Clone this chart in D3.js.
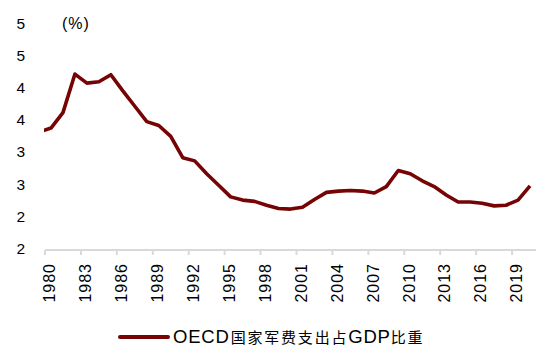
<!DOCTYPE html>
<html>
<head>
<meta charset="utf-8">
<script src="https://cdn.jsdelivr.net/npm/d3@7"></script>
<style>
  html, body { margin: 0; padding: 0; background: #fff; }
  svg { display: block; }
  text { font-family: "Liberation Sans", Arial, "Noto Sans CJK SC", sans-serif; fill: #000; }
</style>
</head>
<body>
<svg id="chart" width="550" height="364"></svg>
<script>
// ---- data ----
const years = d3.range(1979, 2021); // 1979 only feeds the clipped lead-in at the left edge
const values = [
  3.31, // 1979
  3.37, 3.61, 4.21, 4.07, 4.09, 4.20, 3.95, 3.71, 3.47, 3.41,   // 1980-1989
  3.24, 2.91, 2.86, 2.66, 2.48, 2.30, 2.25, 2.23, 2.17, 2.12,   // 1990-1999
  2.11, 2.14, 2.26, 2.37, 2.39, 2.40, 2.39, 2.36, 2.46, 2.71,   // 2000-2009
  2.66, 2.55, 2.46, 2.33, 2.22, 2.22, 2.20, 2.16, 2.17, 2.25,   // 2010-2019
  2.47                                                          // 2020
];
const xTickYears = [1980, 1983, 1986, 1989, 1992, 1995, 1998, 2001, 2004, 2007, 2010, 2013, 2016, 2019];
const yTickValues = [5.0, 4.5, 4.0, 3.5, 3.0, 2.5, 2.0, 1.5];
const yTickLabels = ["5", "5", "4", "4", "3", "3", "2", "2"];
const unitLabel = "(%)";
const seriesName = [
  {t: "OECD", cjk: false},
  {t: "国家军费支出占", cjk: true},
  {t: "GDP", cjk: false},
  {t: "比重", cjk: true}
];

// ---- layout ----
const svg = d3.select("#chart");
const plotLeft = 45, plotRight = 536;
const x = d3.scaleLinear().domain([1980, 2021]).range([plotLeft, plotRight]);
const y = d3.scaleLinear().domain([1.5, 5.0]).range([248.3, 23.3]);
const lineColor = "#760404";
const axisColor = "#d9d9d9";

// clip path for the plot area
svg.append("defs").append("clipPath").attr("id", "plotclip")
  .append("rect").attr("x", plotLeft - 1).attr("y", 0)
  .attr("width", plotRight - plotLeft + 2).attr("height", 260);

// y tick labels
svg.append("g").selectAll("text").data(yTickValues).join("text")
  .attr("x", 25)
  .attr("y", d => y(d))
  .attr("dy", "0.36em")
  .attr("text-anchor", "end")
  .style("font-size", "15.5px")
  .text((d, i) => yTickLabels[i]);

// unit label
svg.append("text")
  .attr("x", 62).attr("y", y(5.0)).attr("dy", "0.36em")
  .style("font-size", "16px").style("letter-spacing", "1px")
  .text(unitLabel);

// x axis
const axisY = y(1.5) + 1.7;
const xAxisG = svg.append("g");
xAxisG.append("line")
  .attr("x1", x(1980)).attr("x2", x(2021))
  .attr("y1", axisY).attr("y2", axisY)
  .attr("stroke", axisColor).attr("stroke-width", 2);
xAxisG.selectAll("line.tick").data(xTickYears).join("line")
  .attr("class", "tick")
  .attr("x1", d => x(d)).attr("x2", d => x(d))
  .attr("y1", axisY).attr("y2", axisY + 5)
  .attr("stroke", axisColor).attr("stroke-width", 2);
xAxisG.selectAll("text").data(xTickYears).join("text")
  .attr("transform", d => `translate(${x(d + 0.5) - 1.5},${axisY + 13}) rotate(-90)`)
  .attr("text-anchor", "end")
  .attr("dy", "0.36em")
  .style("font-size", "16px")
  .style("letter-spacing", "1px")
  .text(d => d);

// line
const line = d3.line()
  .x((d, i) => x(years[i] + 0.5))
  .y(d => y(d));
svg.append("path")
  .datum(values)
  .attr("clip-path", "url(#plotclip)")
  .attr("fill", "none")
  .attr("stroke", lineColor)
  .attr("stroke-width", 3.6)
  .attr("stroke-linejoin", "round")
  .attr("d", line);

// legend
const lg = svg.append("g");
lg.append("line")
  .attr("x1", 120).attr("x2", 168).attr("y1", 337).attr("y2", 337)
  .attr("stroke", lineColor).attr("stroke-width", 4).attr("stroke-linecap", "round");
const lt = lg.append("text").attr("x", 173).attr("y", 337).attr("dy", "0.36em");
seriesName.forEach((s, i) => {
  lt.append("tspan")
    .attr("dx", i === 1 ? 1 : 0)
    .style("font-size", s.cjk ? "15px" : "18.5px")
    .style("letter-spacing", s.cjk ? "1.8px" : "0.8px")
    .style("font-family", s.cjk ? "'Noto Sans CJK SC', sans-serif" : "'Liberation Sans', Arial, sans-serif")
    .text(s.t);
});
</script>
</body>
</html>
